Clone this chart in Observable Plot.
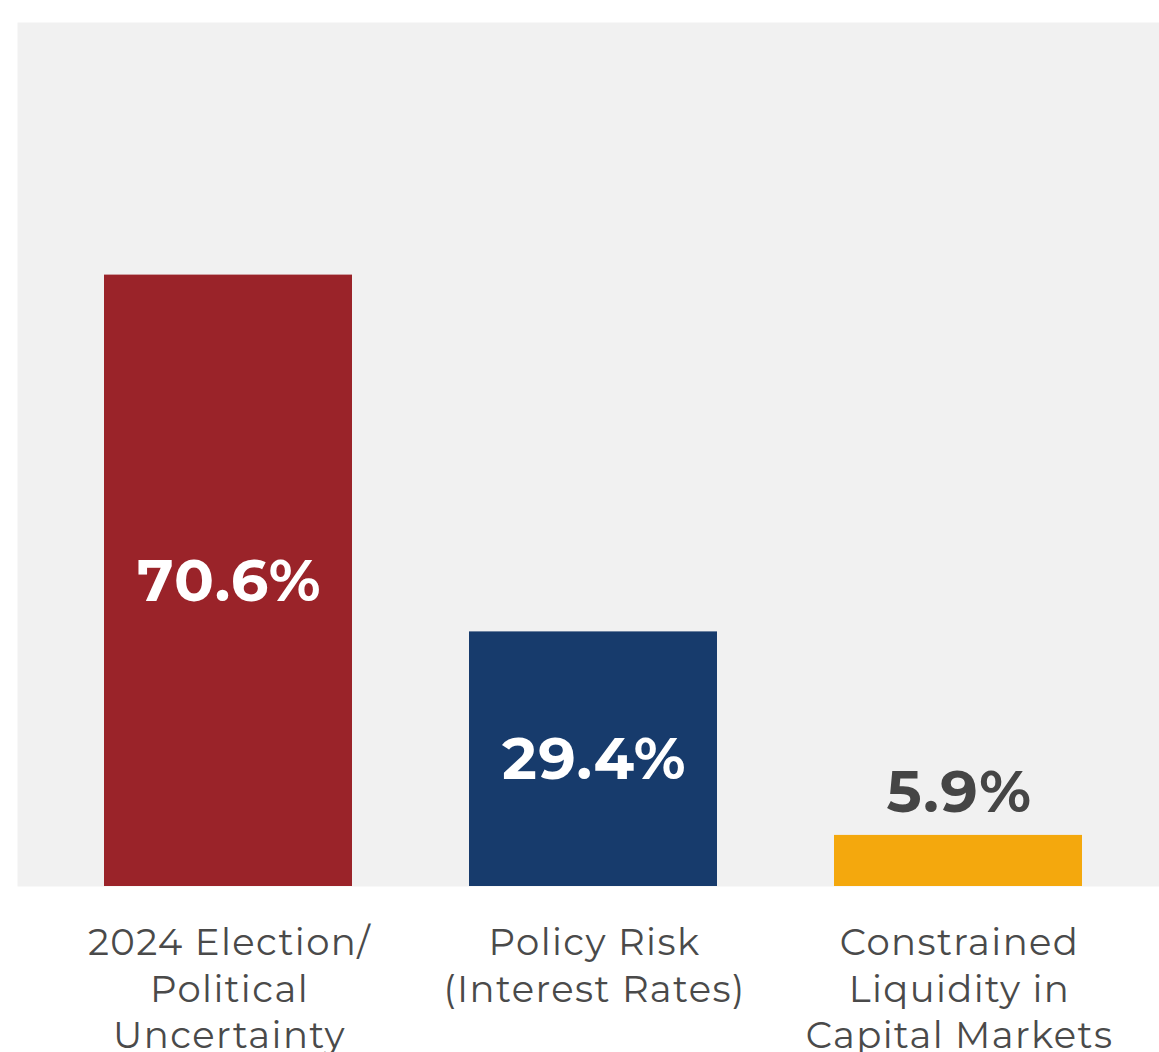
<!DOCTYPE html>
<html>
<head>
<meta charset="utf-8">
<script src="https://cdn.jsdelivr.net/npm/d3@7"></script>
<script src="https://cdn.jsdelivr.net/npm/@observablehq/plot@0.6"></script>
<style>
  html, body { margin: 0; padding: 0; background: #ffffff; }
  #chart svg { display: block; }
  #chart svg g[aria-label="x-axis tick label"] { letter-spacing: 1.4px; }
  #chart svg g[aria-label="text"] { letter-spacing: 1.5px; }
</style>
</head>
<body>
<div id="chart"></div>
<script>
const categories = ["2024 Election/\nPolitical\nUncertainty", "Policy Risk\n(Interest Rates)", "Constrained\nLiquidity in\nCapital Markets"];
const values = [70.6, 29.4, 5.9];
const colors = ["#9a2329", "#173b6c", "#f4a80d"];
const valueLabels = ["70.6%", "29.4%", "5.9%"];

const data = categories.map((c, i) => ({category: c, value: values[i], color: colors[i], label: valueLabels[i], inside: values[i] > 15}));

const font = "Montserrat, Inter, 'Noto Sans', sans-serif";

const chart = Plot.plot({
  width: 1159,
  height: 1052,
  marginTop: 22,
  marginBottom: 166,
  marginLeft: 17,
  marginRight: 0,
  style: {fontFamily: font, background: "#ffffff"},
  x: {domain: categories, range: [103, 1083], paddingInner: 0.32, paddingOuter: 0, label: null},
  y: {domain: [0, 100], range: [886, 20], axis: null},
  marks: [
    Plot.frame({fill: "#f1f1f1", stroke: null}),
    Plot.barY(data, {x: "category", y: "value", fill: "color"}),
    Plot.text(data.filter(d => d.inside), {x: "category", y: d => d.value / 2, text: "label", fill: "#ffffff", fontSize: 59, fontWeight: 700, dx: 1, dy: 1}),
    Plot.text(data.filter(d => !d.inside), {x: "category", y: "value", text: "label", fill: "#454545", fontSize: 59, fontWeight: 700, dx: 1, dy: -42}),
    Plot.axisX({tickSize: 0, tickPadding: 36, fontSize: 37, lineHeight: 1.25, fill: "#4a4a4a", label: null, dx: 1})
  ]
});
document.getElementById("chart").append(chart);
</script>
</body>
</html>
